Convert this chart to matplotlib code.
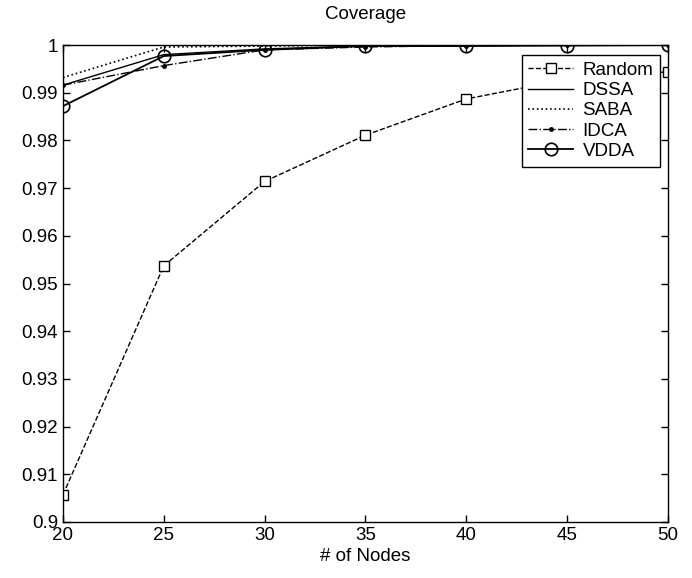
import matplotlib
matplotlib.use("Agg")
import matplotlib.pyplot as plt

plt.rcParams['font.family'] = ['Liberation Sans', 'DejaVu Sans']

nodes = [20, 25, 30, 35, 40, 45, 50]
random_cov = [0.9057, 0.9537, 0.9714, 0.9811, 0.9887, 0.9928, 0.9944]
dssa_cov = [0.9916, 0.9980, 0.9992, 0.9998, 0.9999, 1.0, 1.0]
saba_cov = [0.9932, 0.9996, 0.9998, 1.0, 1.0, 1.0, 1.0]
idca_cov = [0.9916, 0.9957, 0.9990, 0.9996, 0.9999, 1.0, 1.0]
vdda_cov = [0.9872, 0.9977, 0.9990, 0.9998, 0.9998, 0.9999, 1.0]

fig = plt.figure(figsize=(6.92, 5.78), dpi=100)
ax = fig.add_axes([0.091, 0.097, 0.874, 0.825])

ax.plot(nodes, random_cov, 'k--s', lw=1, ms=7, mfc='white', mew=1, label='Random')
ax.plot(nodes, dssa_cov, 'k-', lw=1, label='DSSA')
ax.plot(nodes, saba_cov, 'k:', lw=1.2, label='SABA')
ax.plot(nodes, idca_cov, 'k-.', marker='.', ms=5, lw=1, label='IDCA')
ax.plot(nodes, vdda_cov, 'k-', marker='o', ms=9, mfc='none', mew=1.2, lw=1.3, label='VDDA')

ax.set_xlim(20, 50)
ax.set_ylim(0.9, 1.0)
ax.set_xticks([20, 25, 30, 35, 40, 45, 50])
ax.set_yticks([0.9, 0.91, 0.92, 0.93, 0.94, 0.95, 0.96, 0.97, 0.98, 0.99, 1.0])
ax.set_yticklabels(['0.9', '0.91', '0.92', '0.93', '0.94', '0.95', '0.96',
                    '0.97', '0.98', '0.99', '1'])
ax.tick_params(direction='in', top=True, right=True, labelsize=13.5, length=5, width=1)
for s in ax.spines.values():
    s.set_linewidth(1)

ax.set_title('Coverage', fontsize=13.5, pad=19)
ax.set_xlabel('# of Nodes', fontsize=13.5, labelpad=3)

leg = ax.legend(loc='upper right', bbox_to_anchor=(0.987, 0.979), fontsize=13.5,
                frameon=True, fancybox=False, edgecolor='black', framealpha=1,
                handlelength=2.4, handletextpad=0.5, borderpad=0.35,
                labelspacing=0.17, borderaxespad=0)
leg.get_frame().set_linewidth(1)

fig.savefig('out.png', dpi=100, facecolor='white')
